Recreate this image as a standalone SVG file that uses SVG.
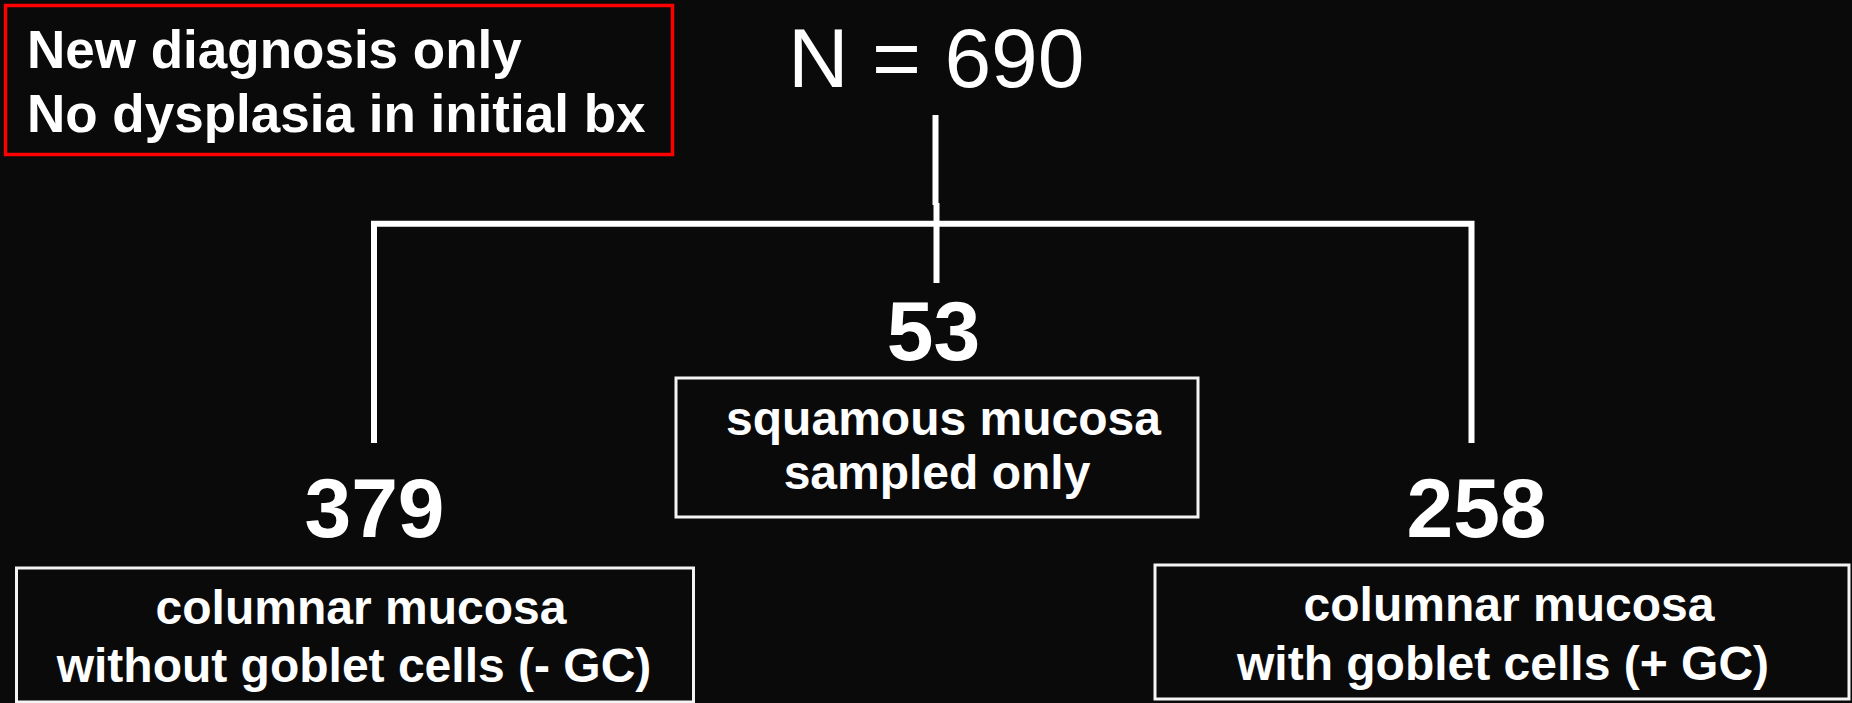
<svg xmlns="http://www.w3.org/2000/svg" width="1852" height="703" viewBox="0 0 1852 703">
  <style>
    .bg { fill: #0a0a0a; }
    .box { fill: #0a0a0a; stroke: #f4f4f4; stroke-width: 3; }
    .note { fill: #0a0a0a; stroke: #ff0000; stroke-width: 3.5; }
    .conn { fill: none; stroke: #ffffff; stroke-width: 6; stroke-linejoin: miter; }
    .lbl { font-family: "Liberation Sans", Arial, sans-serif; font-weight: bold; fill: #ffffff; }
    .t53 { font-size: 53px; }
    .t48 { font-size: 48px; }
    .num { font-size: 84px; text-anchor: middle; }
    .mid { text-anchor: middle; }
    .total { font-family: "Liberation Sans", Arial, sans-serif; font-weight: normal; font-size: 84px; fill: #ffffff; }
  </style>
  <rect class="bg" x="0" y="0" width="1852" height="703"/>

  <g id="connectors">
    <path class="conn" d="M935.5,115 V205"/>
    <path class="conn" d="M936.5,203 V283"/>
    <path class="conn" d="M374,443 V223.7 H1471.5 V443"/>
  </g>

  <g id="note">
    <rect class="note" x="5.5" y="5.5" width="667" height="149"/>
    <text class="lbl t53" x="27" y="68">New diagnosis only</text>
    <text class="lbl t53" x="27" y="132">No dysplasia in initial bx</text>
  </g>

  <g id="total">
    <text class="total" x="788" y="87">N = 690</text>
  </g>

  <g id="squamous">
    <text class="lbl num" x="933.5" y="360">53</text>
    <rect class="box" x="676" y="378" width="522" height="139"/>
    <text class="lbl t48 mid" x="943.5" y="435">squamous mucosa</text>
    <text class="lbl t48 mid" x="937" y="489">sampled only</text>
  </g>

  <g id="no-gc">
    <text class="lbl num" x="374.5" y="537">379</text>
    <rect class="box" x="16.5" y="568" width="677" height="134"/>
    <text class="lbl t48 mid" x="361" y="624">columnar mucosa</text>
    <text class="lbl t48 mid" x="354" y="682">without goblet cells (- GC)</text>
  </g>

  <g id="with-gc">
    <text class="lbl num" x="1476.5" y="537">258</text>
    <rect class="box" x="1155" y="565" width="694" height="134"/>
    <text class="lbl t48 mid" x="1509" y="621">columnar mucosa</text>
    <text class="lbl t48 mid" x="1503" y="680">with goblet cells (+ GC)</text>
  </g>
</svg>
